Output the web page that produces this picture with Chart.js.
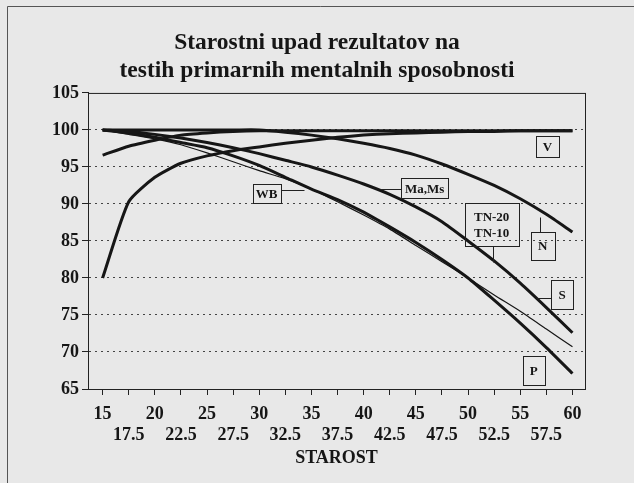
<!DOCTYPE html>
<html>
<head>
<meta charset="utf-8">
<script src="https://cdn.jsdelivr.net/npm/chart.js@4.4.0/dist/chart.umd.min.js"></script>
<style>
  html, body { margin: 0; padding: 0; background: #e8e8e8; }
  #wrap { width: 634px; height: 483px; }
</style>
</head>
<body>
<div id="wrap"><canvas id="chart" width="634" height="483"></canvas></div>
<script>
// starost (x os) in vrednosti IQ za posamezne teste
const ages = [15, 17.5, 20, 22.5, 25, 27.5, 30, 32.5, 35, 37.5, 40, 42.5, 45, 47.5, 50, 52.5, 55, 57.5, 60];
const yTicks = [65, 70, 75, 80, 85, 90, 95, 100, 105];

const iqV    = [96.6, 97.8, 98.6, 99.3, 99.6, 99.8, 99.9, 99.9, 99.9, 99.9, 99.9, 99.9, 99.9, 99.9, 99.9, 99.9, 99.9, 99.9, 99.9];
const iqN    = [100, 100, 100, 100, 100, 100, 100, 99.7, 99.3, 98.8, 98.2, 97.5, 96.6, 95.4, 94.0, 92.5, 90.7, 88.6, 86.2];
const iqMaMs = [80, 90.3, 93.6, 95.5, 96.5, 97.2, 97.7, 98.2, 98.6, 99.0, 99.3, 99.5, 99.6, 99.7, 99.8, 99.8, 99.9, 99.9, 99.9];
const iqS    = [100, 99.8, 99.4, 98.9, 98.3, 97.6, 96.8, 95.9, 95.0, 93.9, 92.7, 91.3, 89.6, 87.6, 85.0, 82.3, 79.3, 76.0, 72.6];
const iqP    = [100, 99.6, 99.0, 98.3, 97.6, 96.5, 95.2, 93.6, 92.0, 90.6, 88.9, 86.9, 84.8, 82.5, 80.0, 77.0, 73.9, 70.6, 67.1];
const iqWB   = [100, 99.4, 98.8, 98.0, 96.9, 95.7, 94.5, 93.4, 92.0, 90.3, 88.5, 86.6, 84.4, 82.2, 80.0, 77.7, 75.5, 73.1, 70.7];

// oznake v okvirjih (starost, IQ) + crta do krivulje
const notes = [
  { lines: ['WB'], x: 30.71, y: 91.42, w: 28, h: 19, leader: [32.05, 91.89, 34.25, 91.89] },
  { lines: ['Ma,Ms'], x: 45.84, y: 92.12, w: 47, h: 20, leader: [41.53, 92.03, 43.61, 92.03] },
  { lines: ['TN-20', 'TN-10'], x: 52.26, y: 87.2, w: 54, h: 43, leader: [52.38, 84.32, 52.38, 82.2] },
  { lines: ['V'], x: 57.6, y: 97.7, w: 23, h: 21 },
  { lines: ['N'], x: 57.14, y: 84.34, w: 24, h: 28, leader: [56.86, 88.28, 56.86, 86.26] },
  { lines: ['S'], x: 59.01, y: 77.7, w: 22, h: 29, leader: [56.54, 77.26, 57.98, 77.26] },
  { lines: ['P'], x: 56.3, y: 67.5, w: 22, h: 29 }
];

const serif = "'Liberation Serif', 'Times New Roman', serif";
const ink = '#161616';

function pts(arr) {
  return ages.map((a, i) => ({ x: a, y: arr[i] }));
}

function line(label, arr, width) {
  return {
    label: label,
    data: pts(arr),
    borderColor: ink,
    borderWidth: width,
    pointRadius: 0,
    tension: 0.2,
    fill: false
  };
}

// okvir grafa + zunanji okvir slike
const framePlugin = {
  id: 'frame',
  afterDraw(chart) {
    const { ctx, chartArea: a } = chart;
    ctx.save();
    ctx.strokeStyle = '#222';
    ctx.lineWidth = 1;
    ctx.strokeRect(a.left + 0.5, a.top + 0.5, a.right - a.left, a.bottom - a.top);
    ctx.strokeStyle = '#555';
    ctx.beginPath();
    ctx.moveTo(7.5, 483);
    ctx.lineTo(7.5, 6.5);
    ctx.lineTo(634, 6.5);
    ctx.stroke();
    ctx.restore();
  }
};

// okvirji z oznakami testov
const notesPlugin = {
  id: 'notes',
  afterDatasetsDraw(chart) {
    const { ctx, scales: { x, y } } = chart;
    ctx.save();
    ctx.strokeStyle = '#222';
    ctx.lineWidth = 1;
    ctx.fillStyle = ink;
    ctx.font = 'bold 13px ' + serif;
    ctx.textAlign = 'center';
    ctx.textBaseline = 'middle';
    notes.forEach(n => {
      const cx = x.getPixelForValue(n.x);
      const cy = y.getPixelForValue(n.y);
      const left = Math.round(cx - n.w / 2) + 0.5;
      const top = Math.round(cy - n.h / 2) + 0.5;
      ctx.strokeRect(left, top, n.w, n.h);
      const lh = 16;
      n.lines.forEach((t, i) => {
        ctx.fillText(t, cx, cy + (i - (n.lines.length - 1) / 2) * lh + 1);
      });
      if (n.leader) {
        ctx.beginPath();
        ctx.moveTo(Math.round(x.getPixelForValue(n.leader[0])) + 0.5, Math.round(y.getPixelForValue(n.leader[1])) + 0.5);
        ctx.lineTo(Math.round(x.getPixelForValue(n.leader[2])) + 0.5, Math.round(y.getPixelForValue(n.leader[3])) + 0.5);
        ctx.stroke();
      }
    });
    ctx.restore();
  }
};

new Chart(document.getElementById('chart'), {
  type: 'line',
  data: {
    datasets: [
      line('WB', iqWB, 1.2),
      line('V', iqV, 3),
      line('N', iqN, 3),
      line('Ma,Ms', iqMaMs, 3),
      line('S', iqS, 3),
      line('P', iqP, 3)
    ]
  },
  options: {
    responsive: false,
    animation: false,
    devicePixelRatio: 1,
    layout: { padding: 0 },
    plugins: {
      legend: { display: false },
      tooltip: { enabled: false },
      title: {
        display: true,
        text: ['Starostni upad rezultatov na', 'testih primarnih mentalnih sposobnosti'],
        color: ink,
        font: { family: serif, size: 23.5, weight: 'bold', lineHeight: 1.19 },
        padding: { top: 29, bottom: 8 }
      }
    },
    scales: {
      x: {
        type: 'linear',
        min: 13.6,
        max: 61.2,
        afterBuildTicks: s => { s.ticks = ages.map(v => ({ value: v })); },
        afterFit: s => { s.height = 94; },
        ticks: {
          autoSkip: false,
          maxRotation: 0,
          color: ink,
          padding: 9,
          font: { family: serif, size: 18, weight: 'bold', lineHeight: 1.15 },
          callback: v => Number.isInteger(v) ? [String(v), ''] : ['', String(v)]
        },
        grid: { drawOnChartArea: false, tickLength: 6, tickColor: '#222' },
        border: { color: '#222', width: 1 },
        title: {
          display: true,
          text: 'STAROST',
          color: ink,
          font: { family: serif, size: 18, weight: 'bold' },
          padding: { top: 0, bottom: 14 }
        }
      },
      y: {
        min: 65,
        max: 105,
        afterBuildTicks: s => { s.ticks = yTicks.map(v => ({ value: v })); },
        afterFit: s => { s.width = 88; },
        ticks: {
          color: ink,
          padding: 3,
          font: { family: serif, size: 18, weight: 'bold' }
        },
        grid: {
          color: c => (c.tick && (c.tick.value === 65 || c.tick.value === 105)) ? 'rgba(0,0,0,0)' : '#444',
          tickColor: '#222',
          tickLength: 6,
          lineWidth: 1
        },
        border: { color: '#222', width: 1, dash: [2, 4] }
      },
      // prazen prostor desno od grafa
      yRight: {
        position: 'right',
        display: true,
        afterFit: s => { s.width = 49; },
        ticks: { display: false },
        grid: { display: false },
        border: { display: false }
      }
    }
  },
  plugins: [framePlugin, notesPlugin]
});
</script>
</body>
</html>
